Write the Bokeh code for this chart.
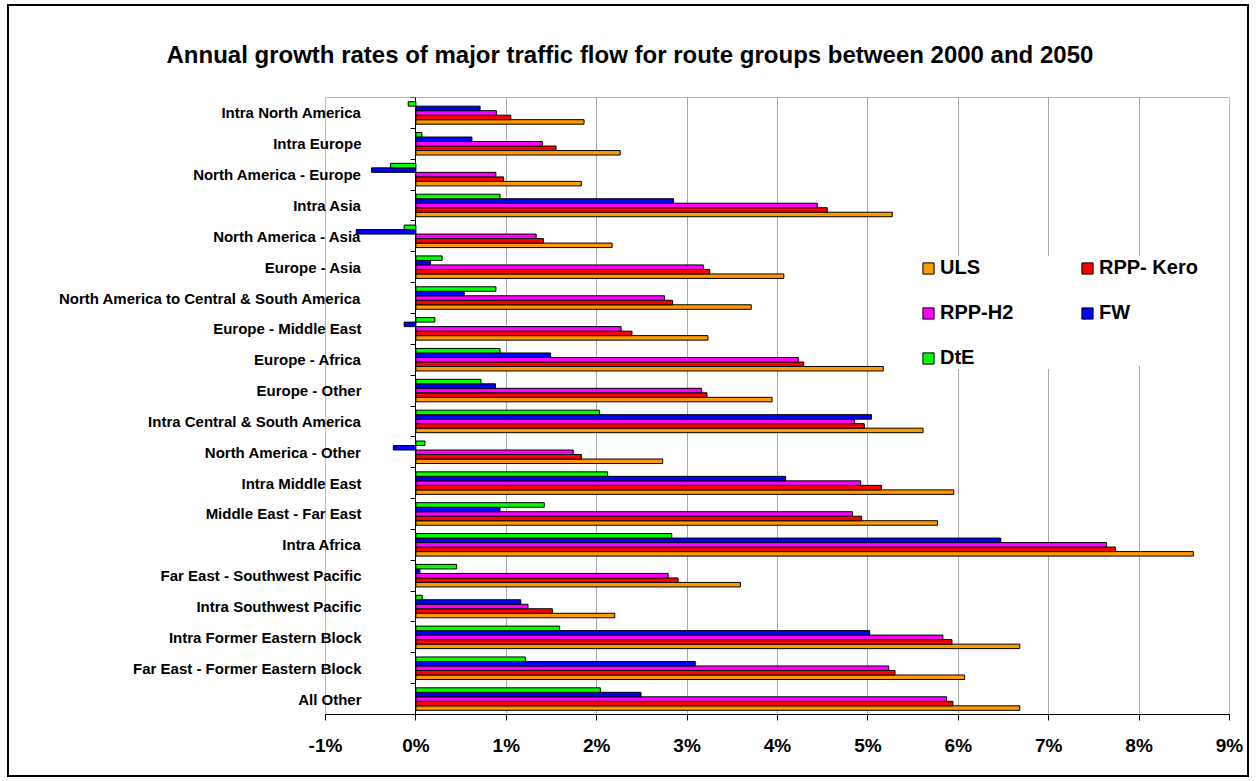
from bokeh.plotting import figure
from bokeh.models import (ColumnDataSource, Range1d, FixedTicker, LinearAxis,
                          Legend, LegendItem, InlineStyleSheet)
from bokeh.transform import dodge
from bokeh.embed import file_html
from bokeh.resources import INLINE

title_text = "Annual growth rates of major traffic flow for route groups between 2000 and 2050"

categories = [
    "Intra North America", "Intra Europe", "North America - Europe", "Intra Asia",
    "North America - Asia", "Europe - Asia", "North America to Central & South America",
    "Europe - Middle East", "Europe - Africa", "Europe - Other",
    "Intra Central & South America", "North America - Other", "Intra Middle East",
    "Middle East - Far East", "Intra Africa", "Far East - Southwest Pacific",
    "Intra Southwest Pacific", "Intra Former Eastern Block",
    "Far East - Former Eastern Block", "All Other",
]

uls      = [1.86, 2.26, 1.83, 5.27, 2.17, 4.07, 3.71, 3.23, 5.17, 3.94,
            5.61, 2.73, 5.95, 5.77, 8.60, 3.59, 2.20, 6.68, 6.07, 6.68]
rpp_kero = [1.05, 1.55, 0.97, 4.55, 1.41, 3.25, 2.84, 2.39, 4.29, 3.22,
            4.96, 1.83, 5.15, 4.93, 7.74, 2.90, 1.51, 5.93, 5.30, 5.94]
rpp_h2   = [0.89, 1.40, 0.885, 4.44, 1.33, 3.18, 2.75, 2.27, 4.23, 3.16,
            4.85, 1.74, 4.92, 4.83, 7.64, 2.79, 1.24, 5.83, 5.23, 5.87]
fw       = [0.71, 0.62, -0.49, 2.85, -0.66, 0.16, 0.535, -0.13, 1.49, 0.88,
            5.04, -0.25, 4.09, 0.93, 6.47, 0.044, 1.16, 5.02, 3.09, 2.49]
dte      = [-0.085, 0.066, -0.28, 0.93, -0.13, 0.29, 0.885, 0.21, 0.93, 0.72,
            2.03, 0.10, 2.12, 1.42, 2.83, 0.45, 0.07, 1.59, 1.21, 2.04]

series_names = ["ULS", "RPP- Kero", "RPP-H2", "FW", "DtE"]
series_colors = ["#FF9900", "#FF0000", "#FF00FF", "#0000FF", "#00FF00"]

x_ticks = [-1, 0, 1, 2, 3, 4, 5, 6, 7, 8, 9]
x_tick_labels = ["-1%", "0%", "1%", "2%", "3%", "4%", "5%", "6%", "7%", "8%", "9%"]

FONT = "Liberation Sans"

n = len(categories)
# category slot positions (first category at the top), one unit per category
pos = [n - i - 0.5 for i in range(n)]
boundaries = [float(k) for k in range(n + 1)]

source = ColumnDataSource(dict(pos=pos, cat=categories, uls=uls, kero=rpp_kero,
                               h2=rpp_h2, fw=fw, dte=dte))

frame_css = InlineStyleSheet(css="""
:host { position: relative; }
:host::after {
  content: "";
  position: absolute;
  left: 7px; top: 4px; right: 7px; bottom: 4px;
  border: 2px solid black;
  pointer-events: none;
  z-index: 1000;
}
""")

p = figure(width=1256, height=781, output_backend="svg", toolbar_location=None,
           y_range=Range1d(0, n), x_range=Range1d(-1, 9),
           y_axis_location=None, x_axis_location=None,
           min_border_left=325, min_border_right=27, min_border_top=97, min_border_bottom=67,
           stylesheets=[frame_css])
p.background_fill_color = "white"
p.border_fill_color = "white"
p.outline_line_color = "#b8b8b8"
p.outline_line_width = 1

# title
p.title.text = title_text
p.title.align = "left"
p.title.offset = -159
p.title.standoff = 60
p.title.text_font = FONT
p.title.text_font_style = "bold"
p.title.text_font_size = "24px"
p.title.text_color = "black"

# grid
p.xgrid.ticker = FixedTicker(ticks=x_ticks)
p.xgrid.grid_line_color = "#a8a8a8"
p.xgrid.grid_line_width = 1
p.ygrid.grid_line_color = None

bar_h = 0.146
fields = ["uls", "kero", "h2", "fw", "dte"]
offsets = [-2 * bar_h, -bar_h, 0.0, bar_h, 2 * bar_h]
renderers = []
for f, off, col in zip(fields, offsets, series_colors):
    r = p.hbar(y=dodge("pos", off), left=0, right=f, height=bar_h,
               source=source, fill_color=col, line_color="black", line_width=1)
    renderers.append(r)

# x axis
xaxis = LinearAxis(ticker=FixedTicker(ticks=x_ticks),
                   major_label_overrides={t: l for t, l in zip(x_ticks, x_tick_labels)})
xaxis.axis_line_color = "black"
xaxis.axis_line_width = 1
xaxis.major_tick_out = 6
xaxis.major_tick_in = 0
xaxis.major_tick_line_color = "black"
xaxis.minor_tick_line_color = None
xaxis.major_label_standoff = 14
xaxis.major_label_text_font = FONT
xaxis.major_label_text_font_style = "bold"
xaxis.major_label_text_font_size = "19px"
xaxis.major_label_text_color = "black"
p.add_layout(xaxis, "below")

# category labels (drawn into the plot area, ending left of the 0 axis)
yaxis = LinearAxis(ticker=FixedTicker(ticks=pos),
                   major_label_overrides={pp: c for pp, c in zip(pos, categories)})
yaxis.axis_line_color = None
yaxis.major_tick_line_color = None
yaxis.minor_tick_line_color = None
yaxis.major_tick_out = 0
yaxis.major_tick_in = 0
yaxis.major_label_standoff = -36
yaxis.major_label_text_font = FONT
yaxis.major_label_text_font_style = "bold"
yaxis.major_label_text_font_size = "15px"
yaxis.major_label_text_color = "black"
p.add_layout(yaxis, "left")

# vertical axis line at 0 with ticks at category boundaries
zaxis = LinearAxis(fixed_location=0,
                   ticker=FixedTicker(ticks=[], minor_ticks=boundaries))
zaxis.axis_line_color = "black"
zaxis.axis_line_width = 1
zaxis.major_tick_line_color = None
zaxis.minor_tick_line_color = "black"
zaxis.minor_tick_out = 5
zaxis.minor_tick_in = 0
zaxis.major_label_text_font_size = "1px"
p.add_layout(zaxis, "left")

# legends
common = dict(glyph_width=14, glyph_height=14, label_standoff=5, label_height=20,
              spacing=22, padding=14, margin=0, background_fill_color="white",
              background_fill_alpha=1.0, border_line_color=None,
              label_text_font=FONT, label_text_font_style="bold",
              label_text_font_size="20px", label_text_color="black")
leg1 = Legend(items=[LegendItem(label=series_names[0], renderers=[renderers[0]]),
                     LegendItem(label=series_names[2], renderers=[renderers[2]]),
                     LegendItem(label=series_names[4], renderers=[renderers[4]])],
              location=(596, 345), label_width=125, **common)
leg2 = Legend(items=[LegendItem(label=series_names[1], renderers=[renderers[1]]),
                     LegendItem(label=series_names[3], renderers=[renderers[3]]),
                     LegendItem(label=" ", renderers=[])],
              location=(755, 348), label_width=105, **common)
p.add_layout(leg1, "center")
p.add_layout(leg2, "center")

open("out.html", "w").write(file_html(p, INLINE))
